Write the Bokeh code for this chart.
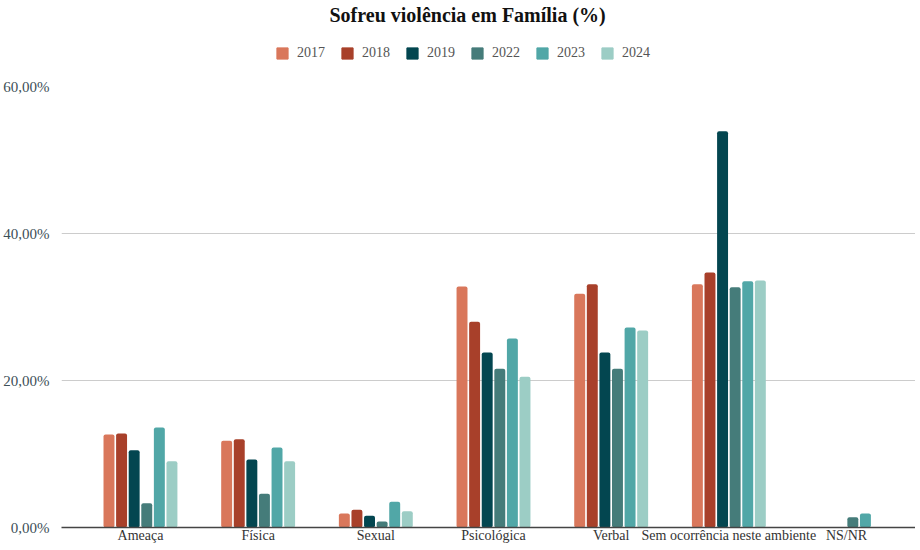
from bokeh.plotting import figure
from bokeh.layouts import column
from bokeh.models import FixedTicker, Legend, LegendItem, ColumnDataSource
from bokeh.transform import dodge
from bokeh.embed import file_html
from bokeh.resources import INLINE

categories = ["Ameaça", "Física", "Sexual", "Psicológica", "Verbal",
              "Sem ocorrência neste ambiente", "NS/NR"]
years = ["2017", "2018", "2019", "2022", "2023", "2024"]
v2017 = [12.65, 11.8, 1.9, 32.8, 31.8, 33.1, 0.0]
v2018 = [12.8, 12.0, 2.4, 28.0, 33.1, 34.7, 0.0]
v2019 = [10.5, 9.25, 1.6, 23.8, 23.8, 53.9, 0.0]
v2022 = [3.3, 4.6, 0.8, 21.6, 21.6, 32.7, 1.4]
v2023 = [13.6, 10.9, 3.5, 25.7, 27.2, 33.5, 1.9]
v2024 = [9.0, 9.0, 2.2, 20.5, 26.8, 33.6, 0.0]
y_ticks = [0, 20, 40, 60]
y_tick_labels = ["0,00%", "20,00%", "40,00%", "60,00%"]

colors = ["#D9775B", "#A8402A", "#034650", "#457C7A", "#51A7A7", "#9CCDC5"]
series = [v2017, v2018, v2019, v2022, v2023, v2024]

FONT = "Liberation Serif"
W = 906

pos = list(range(len(categories)))
src = ColumnDataSource(dict(pos=pos, cat=categories, **{y: s for y, s in zip(years, series)}))

# ---- header: title + legend
head = figure(frame_width=W, frame_height=52, output_backend="svg", toolbar_location=None,
              x_range=(0, 1), y_range=(0, 1), x_axis_location=None, y_axis_location=None,
              min_border_left=0, min_border_right=0, min_border_bottom=0, min_border_top=0)
head.grid.visible = False
head.outline_line_color = None
head.title.text = "Sofreu violência em Família (%)"
head.title.align = "left"
head.title.offset = 268
head.title.text_font = FONT
head.title.text_font_size = "20px"
head.title.text_font_style = "bold"
head.title.text_color = "#111111"
head.title.standoff = 2

# legend swatches: renderers kept outside the header's visible range
swatch = ColumnDataSource(dict(x=[-10], top=[0]))
items = []
for yr, c in zip(years, colors):
    r = head.vbar(x="x", top="top", width=0.1, source=swatch, color=c)
    items.append(LegendItem(label=yr, renderers=[r]))
legend = Legend(items=items, orientation="horizontal", location=(275, 17),
                glyph_width=14, glyph_height=14, spacing=15, label_standoff=8,
                label_text_font=FONT, label_text_font_size="14px",
                label_text_color="#555555", border_line_color=None,
                background_fill_alpha=0, margin=0, padding=4)
head.add_layout(legend, "center")

# ---- main chart
p = figure(frame_width=W - 52, frame_height=441, x_range=(-0.671, 6.586), y_range=(0, 60),
           output_backend="svg", toolbar_location=None,
           min_border_left=52, min_border_right=0, min_border_bottom=22,
           min_border_top=8)

step = 0.107
for i, (yr, c) in enumerate(zip(years, colors)):
    p.vbar(x=dodge("pos", (i - 2.5) * step), top=yr, width=0.093,
           source=src, color=c, line_color=None, border_radius=2)

p.yaxis.ticker = FixedTicker(ticks=y_ticks)
p.yaxis.major_label_overrides = {t: l for t, l in zip(y_ticks, y_tick_labels)}
p.yaxis.axis_line_color = None
p.yaxis.major_tick_line_color = None
p.yaxis.minor_tick_line_color = None
p.yaxis.major_label_text_font = FONT
p.yaxis.major_label_text_font_size = "15px"
p.yaxis.major_label_text_color = "#3d4f57"
p.yaxis.major_label_standoff = 6

p.xaxis.ticker = FixedTicker(ticks=pos)
p.xaxis.major_label_overrides = {i: c for i, c in zip(pos, categories)}
p.xaxis.axis_line_color = "#444444"
p.xaxis.axis_line_width = 1.5
p.xaxis.major_tick_line_color = None
p.xaxis.minor_tick_line_color = None
p.xaxis.major_label_text_font = FONT
p.xaxis.major_label_text_font_size = "14px"
p.xaxis.major_label_text_color = "#333333"
p.xaxis.major_label_standoff = 0
p.xaxis.major_tick_out = 0
p.xaxis.major_tick_in = 0

p.xgrid.grid_line_color = None
p.ygrid.ticker = FixedTicker(ticks=y_ticks)
p.ygrid.grid_line_color = "#cccccc"
p.outline_line_color = None

open("out.html", "w").write(file_html(column(head, p, spacing=0), INLINE))
